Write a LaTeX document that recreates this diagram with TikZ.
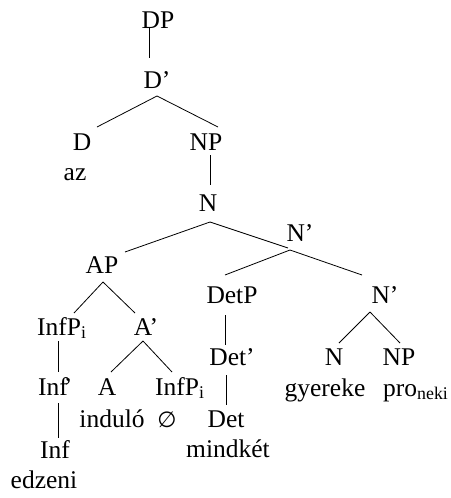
\documentclass[tikz,border=0pt]{standalone}
\usepackage{fontspec}
\setmainfont{Liberation Serif}
\newfontfamily\symfont{DejaVu Sans}
\begin{document}
\begin{tikzpicture}[x=1pt,y=-1pt,
  lbl/.style={inner sep=0pt,anchor=base,font=\fontsize{25.5}{30}\selectfont},
  lblw/.style={lbl,anchor=base west},
  edge/.style={line width=0.8pt,black}]
\useasboundingbox (0,0) rectangle (450,498);
% nodes
\node[lbl] (DP) at (158,28) {DP};
\node[lbl] (Dbar) at (157,88) {D’};
\node[lbl] (D) at (82,150) {D};
\node[lbl] (NP) at (206,150) {NP};
\node[lbl] (az) at (75,180) {az};
\node[lbl] (N) at (208,211) {N};
\node[lbl] (Nbar) at (300,241) {N’};
\node[lbl] (AP) at (102,273) {AP};
\node[lbl] (DetP) at (232,303) {DetP};
\node[lbl] (Nbarb) at (385,303) {N’};
\node[lblw] (InfPa) at (37,335) {InfP\textsubscript{i}};
\node[lbl] (Abar) at (146,335) {A’};
\node[lbl] (Detbar) at (232,365) {Det’};
\node[lbl] (Nb) at (334,365) {N};
\node[lbl] (NPb) at (399,365) {NP};
\node[lblw] (Infbar) at (38,395) {Inf\kern-4pt’};
\node[lbl] (A) at (107,395) {A};
\node[lblw] (InfPb) at (155,395) {InfP\textsubscript{i}};
\node[lbl] (gyereke) at (325,396) {gyereke};
\node[lblw] (pro) at (383,396) {pro\textsubscript{neki}};
\node[lbl] (indulo) at (112,427) {induló};
\node[lbl] (empty) at (167,427) {{\symfont\fontsize{22}{26}\selectfont ∅}};
\node[lbl] (Det) at (226,427) {Det};
\node[lbl] (Inf) at (55,458) {Inf};
\node[lbl] (mindket) at (228,457) {mindkét};
\node[lbl] (edzeni) at (44,488) {edzeni};
% edges
\draw[edge] ([shift={(-9,-1)}]DP.base) -- ([shift={(-8,-30)}]Dbar.base);
\draw[edge] ([shift={(0,8)}]Dbar.base) -- ([shift={(15,-23)}]D.base);
\draw[edge] ([shift={(0,8)}]Dbar.base) -- ([shift={(12,-23)}]NP.base);
\draw[edge] ([shift={(4,5)}]NP.base) -- ([shift={(2,-26)}]N.base);
\draw[edge] ([shift={(2,11)}]N.base) -- ([shift={(23,-21)}]AP.base);
\draw[edge] ([shift={(2,11)}]N.base) -- ([shift={(-12,7)}]Nbar.base);
\draw[edge] ([shift={(-10,9)}]Nbar.base) -- ([shift={(-7,-28)}]DetP.base);
\draw[edge] ([shift={(-10,9)}]Nbar.base) -- ([shift={(-23,-28)}]Nbarb.base);
\draw[edge] ([shift={(1,9)}]AP.base) -- ([shift={(37,-22)}]InfPa.base west);
\draw[edge] ([shift={(1,9)}]AP.base) -- ([shift={(-11,-22)}]Abar.base);
\draw[edge] ([shift={(21,6)}]InfPa.base west) -- ([shift={(20,-23)}]Infbar.base west);
\draw[edge] ([shift={(-3,6)}]Abar.base) -- ([shift={(4,-23)}]A.base);
\draw[edge] ([shift={(-3,6)}]Abar.base) -- ([shift={(17,-23)}]InfPb.base west);
\draw[edge] ([shift={(-7,12)}]DetP.base) -- ([shift={(-7,-20)}]Detbar.base);
\draw[edge] ([shift={(-15,9)}]Nbarb.base) -- ([shift={(5,-22)}]Nb.base);
\draw[edge] ([shift={(-15,9)}]Nbarb.base) -- ([shift={(1,-22)}]NPb.base);
\draw[edge] ([shift={(-6,10)}]Detbar.base) -- ([shift={(0,-22)}]Det.base);
\draw[edge] ([shift={(20,8)}]Infbar.base west) -- ([shift={(3,-20)}]Inf.base);
\end{tikzpicture}
\end{document}
